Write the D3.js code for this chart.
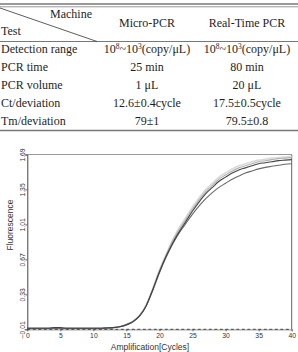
<!DOCTYPE html>
<html>
<head>
<meta charset="utf-8">
<script src="https://cdn.jsdelivr.net/npm/d3@7"></script>
<style>
  body { margin: 0; background: #fff; }
  svg { display: block; }
  .cell { font-family: "Liberation Serif", "Times New Roman", serif; font-size: 12px; fill: #1e1e1e; }
  .tick-label { font-family: "Liberation Sans", Arial, sans-serif; font-size: 6.8px; fill: #333; }
  .axis-title { font-family: "Liberation Sans", Arial, sans-serif; font-size: 8.5px; fill: #333; }
</style>
</head>
<body>
<div id="chart"></div>
<script>
// table data
var headerCols = ["Micro-PCR", "Real-Time PCR"];
var tests = ["Detection range", "PCR time", "PCR volume", "Ct/deviation", "Tm/deviation"];
var microPCR = ["10^8~10^3(copy/μL)", "25 min", "1 μL", "12.6±0.4cycle", "79±1"];
var realTimePCR = ["10^8~10^3(copy/μL)", "80 min", "20 μL", "17.5±0.5cycle", "79.5±0.8"];

// amplification curves (fluorescence per cycle)
var cycles = [0, 1, 2, 3, 4, 5, 6, 7, 8, 9, 10, 11, 12, 13, 14, 15, 16, 17, 18, 19, 20,
  21, 22, 23, 24, 25, 26, 27, 28, 29, 30, 31, 32, 33, 34, 35, 36, 37, 38, 39, 40];
var wellA = [0, 0, 0, 0, 0.006, 0.006, 0, 0, 0, 0, 0, 0, 0.003, 0.006, 0.015, 0.035, 0.065, 0.12, 0.22, 0.38, 0.55,
  0.70, 0.83, 0.94, 1.04, 1.14, 1.23, 1.31, 1.37, 1.43, 1.47, 1.51, 1.54, 1.56, 1.58, 1.60, 1.61, 1.62, 1.63, 1.635, 1.64];
var wellB = [0, 0, 0, 0, 0, 0, 0, 0, 0, 0, 0, 0, 0.004, 0.006, 0.014, 0.033, 0.063, 0.12, 0.22, 0.37, 0.54,
  0.69, 0.82, 0.93, 1.02, 1.11, 1.19, 1.26, 1.32, 1.37, 1.41, 1.45, 1.48, 1.51, 1.53, 1.55, 1.565, 1.575, 1.585, 1.595, 1.60];
var wellC = [0, 0, 0, 0, 0, 0, 0, 0, 0, 0, 0, 0, 0.002, 0.006, 0.016, 0.036, 0.068, 0.125, 0.225, 0.385, 0.56,
  0.71, 0.85, 0.96, 1.06, 1.16, 1.25, 1.33, 1.39, 1.45, 1.49, 1.53, 1.56, 1.58, 1.60, 1.62, 1.63, 1.64, 1.65, 1.655, 1.66];
var wellD = [0, 0, 0, 0, 0, 0, 0, 0, 0, 0, 0, 0, 0.002, 0.007, 0.017, 0.038, 0.07, 0.13, 0.23, 0.39, 0.57,
  0.72, 0.86, 0.98, 1.08, 1.18, 1.27, 1.35, 1.41, 1.47, 1.51, 1.55, 1.58, 1.60, 1.62, 1.635, 1.645, 1.655, 1.66, 1.665, 1.67];
var xTicks = [0, 5, 10, 15, 20, 25, 30, 35, 40];
var yTicks = [-0.01, 0.33, 0.67, 1.01, 1.35, 1.69];

var svg = d3.select("#chart")
  .append("svg")
  .attr("width", 298)
  .attr("height", 352);

// ---------------- table ----------------
var table = svg.append("g");

var rowY = d3.scalePoint()
  .domain(tests)
  .range([49, 121]);

var colX = [1, 147, 247];

table.append("line").attr("x1", 0).attr("x2", 298).attr("y1", 4).attr("y2", 4)
  .attr("stroke", "#777").attr("stroke-width", 1.3);
table.append("line").attr("x1", 0).attr("x2", 298).attr("y1", 6.8).attr("y2", 6.8)
  .attr("stroke", "#999").attr("stroke-width", 1);
table.append("line").attr("x1", 0).attr("x2", 298).attr("y1", 41.5).attr("y2", 41.5)
  .attr("stroke", "#555").attr("stroke-width", 0.8);
table.append("line").attr("x1", 0).attr("x2", 298).attr("y1", 130.5).attr("y2", 130.5)
  .attr("stroke", "#777").attr("stroke-width", 1.4);
// diagonal header cell
table.append("line").attr("x1", 0).attr("y1", 8).attr("x2", 97).attr("y2", 41.5)
  .attr("stroke", "#333").attr("stroke-width", 0.8);

table.append("text").attr("class", "cell").attr("x", 92).attr("y", 18)
  .attr("text-anchor", "end").text("Machine");
table.append("text").attr("class", "cell").attr("x", 1).attr("y", 35).text("Test");

table.selectAll(".hdr")
  .data(headerCols)
  .enter()
  .append("text")
  .attr("class", "cell hdr")
  .attr("x", (d, i) => colX[i + 1])
  .attr("y", 23)
  .attr("dy", "0.35em")
  .attr("text-anchor", "middle")
  .text(d => d);

// write a cell, turning ^n into superscripts
function cellText(sel, str) {
  var parts = str.split(/(\^\d)/).filter(p => p !== "");
  var shift = 0;
  parts.forEach(function(p) {
    if (p[0] === "^") {
      sel.append("tspan").attr("dy", -4 - shift).attr("font-size", "7.5px").text(p.slice(1));
      shift = -4;
    } else {
      sel.append("tspan").attr("dy", -shift).text(p);
      shift = 0;
    }
  });
}

tests.forEach(function(t, i) {
  var y = rowY(t) + 4;
  table.append("text").attr("class", "cell").attr("x", colX[0]).attr("y", y).text(t);
  [microPCR[i], realTimePCR[i]].forEach(function(v, j) {
    var tx = table.append("text").attr("class", "cell")
      .attr("x", colX[j + 1]).attr("y", y)
      .attr("text-anchor", "middle");
    cellText(tx, v);
  });
});

// ---------------- amplification plot ----------------
var x = d3.scaleLinear().domain([0, 40]).range([27.3, 291.7]);
var y = d3.scaleLinear().domain([-0.01, 1.69]).range([329.3, 154.5]);

var plot = svg.append("g");

// frame
plot.append("line").attr("x1", x(0)).attr("x2", x(40)).attr("y1", y(1.69)).attr("y2", y(1.69))
  .attr("stroke", "#999").attr("stroke-width", 1.2);
plot.append("line").attr("x1", x(40)).attr("x2", x(40)).attr("y1", y(1.69)).attr("y2", y(-0.01))
  .attr("stroke", "#666").attr("stroke-width", 1);

var wells = [
  { values: wellD, color: "#dadada", width: 1.6 },
  { values: wellC, color: "#b0b0b0", width: 1.1 },
  { values: wellB, color: "#6a6a6a", width: 1.1 },
  { values: wellA, color: "#444", width: 1.1 }
];

var line = d3.line()
  .x((d, i) => x(cycles[i]))
  .y(d => y(d))
  .curve(d3.curveMonotoneX);

plot.selectAll(".well")
  .data(wells)
  .enter()
  .append("path")
  .attr("class", "well")
  .attr("d", d => line(d.values))
  .attr("fill", "none")
  .attr("stroke", d => d.color)
  .attr("stroke-width", d => d.width);

// axes
var bottomAxis = d3.axisBottom(x).tickValues(xTicks).tickSize(2).tickFormat(d3.format("d"));
var leftAxis = d3.axisLeft(y).tickValues(yTicks).tickSize(2).tickFormat(d3.format(".2f"));

var xAxisG = plot.append("g")
  .attr("transform", `translate(0, ${y(-0.01)})`)
  .call(bottomAxis);
xAxisG.select(".domain").attr("stroke", "#aaa").attr("stroke-width", 1.2);
xAxisG.selectAll(".tick line").attr("stroke", "#666");
xAxisG.selectAll(".tick text").attr("class", "tick-label").attr("y", 4);

// dashed threshold line along the baseline
plot.append("line")
  .attr("x1", x(0)).attr("x2", x(40))
  .attr("y1", y(-0.01)).attr("y2", y(-0.01))
  .attr("stroke", "#444").attr("stroke-width", 1)
  .attr("stroke-dasharray", "3,2.5");

var yAxisG = plot.append("g")
  .attr("transform", `translate(${x(0)}, 0)`)
  .call(leftAxis);
yAxisG.select(".domain").attr("stroke", "#444").attr("stroke-width", 1);
yAxisG.selectAll(".tick line").attr("stroke", "#666");
yAxisG.selectAll(".tick text")
  .attr("class", "tick-label")
  .attr("x", 0).attr("y", 0).attr("dy", 0)
  .attr("text-anchor", "middle")
  .attr("transform", "translate(-2.5, 0) rotate(-90)");

// axis titles
plot.append("text")
  .attr("class", "axis-title")
  .attr("x", 150)
  .attr("y", 350)
  .attr("text-anchor", "middle")
  .text("Amplification[Cycles]");

plot.append("text")
  .attr("class", "axis-title")
  .attr("transform", "translate(10, 225) rotate(-90)")
  .attr("text-anchor", "middle")
  .attr("dy", "0.35em")
  .text("Fluorescence");
</script>
</body>
</html>
